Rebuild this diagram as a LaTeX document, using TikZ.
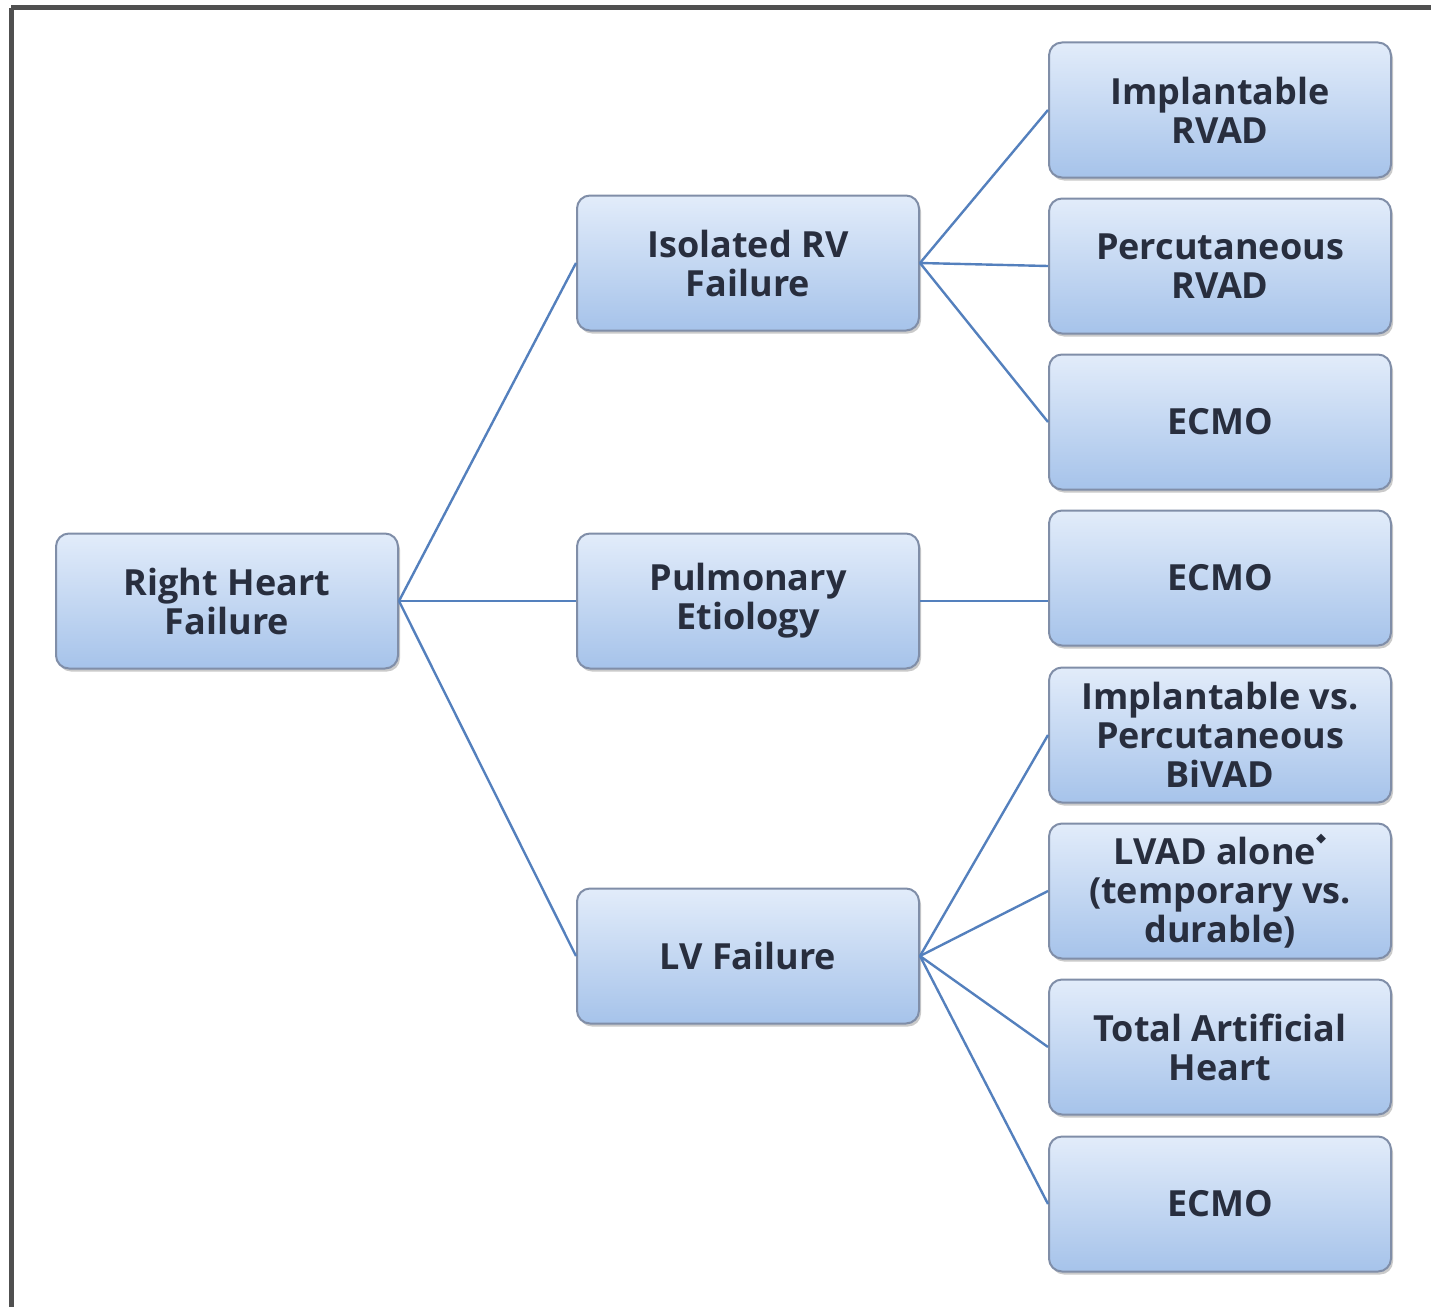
\documentclass[tikz,border=0pt]{standalone}
\usepackage{fontspec}
\setmainfont{Open Sans}
\newfontfamily\symfnt{DejaVu Sans}
\usetikzlibrary{shadows}
\definecolor{boxtop}{RGB}{226,236,250}
\definecolor{boxbot}{RGB}{166,195,234}
\definecolor{boxline}{RGB}{128,142,168}
\definecolor{linkc}{RGB}{84,128,189}
\definecolor{txtc}{RGB}{40,46,62}
\definecolor{framec}{RGB}{80,80,80}
\tikzset{
  boxn/.style={draw=boxline, line width=2pt, rounded corners=13pt,
    top color=boxtop, bottom color=boxbot,
    minimum width=342pt, minimum height=135pt, inner sep=0pt,
    align=center, text=txtc,
    font=\fontsize{36}{39}\selectfont\bfseries,
    drop shadow={shadow xshift=2pt, shadow yshift=-3pt, opacity=0.35, fill=black!60}},
  link/.style={draw=linkc, line width=2.4pt}
}
\begin{document}
\begin{tikzpicture}[x=1pt,y=-1pt]
\useasboundingbox (0,0) rectangle (1431,1306);
\draw[framec, line width=5pt] (11,8) -- (1445,8);
\draw[framec, line width=5pt] (11,8) -- (11,1320);

\node[boxn] (rhf) at (227,601) {Right Heart\\Failure};
\node[boxn] (iso) at (748,263) {Isolated RV\\Failure};
\node[boxn] (pul) at (748,601) {Pulmonary\\Etiology};
\node[boxn] (lvf) at (748,956) {LV Failure};

\node[boxn] (r1) at (1220,110) {Implantable\\RVAD};
\node[boxn] (r2) at (1220,266) {Percutaneous\\RVAD};
\node[boxn] (r3) at (1220,422) {ECMO};
\node[boxn] (r4) at (1220,578) {ECMO};
\node[boxn] (r5) at (1220,735) {Implantable vs.\\Percutaneous\\BiVAD};
\node[boxn] (r6) at (1220,891) {LVAD alone\raisebox{1.1ex}{\symfnt\fontsize{13}{13}\selectfont ◆}\\(temporary vs.\\durable)};
\node[boxn] (r7) at (1220,1047) {Total Artificial\\Heart};
\node[boxn] (r8) at (1220,1204) {ECMO};

\draw[link] (rhf.east) -- (iso.west);
\draw[link] (rhf.east) -- (pul.west);
\draw[link] (rhf.east) -- (lvf.west);
\draw[link] (iso.east) -- (r1.west);
\draw[link] (iso.east) -- (r2.west);
\draw[link] (iso.east) -- (r3.west);
\draw[link] (pul.east) -- (pul.east -| r4.west);
\draw[link] (lvf.east) -- (r5.west);
\draw[link] (lvf.east) -- (r6.west);
\draw[link] (lvf.east) -- (r7.west);
\draw[link] (lvf.east) -- (r8.west);
\end{tikzpicture}
\end{document}
